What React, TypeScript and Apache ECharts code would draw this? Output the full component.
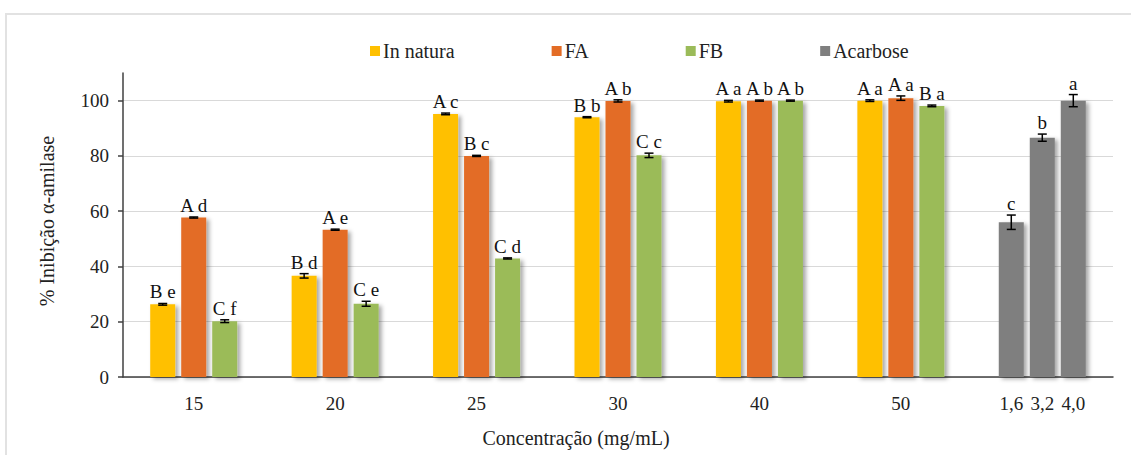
import React, { useEffect, useRef } from 'react';
import * as echarts from 'echarts';

// ---- data ----
const categories = ['15', '20', '25', '30', '40', '50', 'Acarbose'];
const acarboseDoses = ['1,6', '3,2', '4,0'];

const inNatura = [26.3, 36.6, 95.2, 94.0, 99.8, 100.0];
const inNaturaErr = [0.3, 0.8, 0.3, 0.2, 0.3, 0.3];
const inNaturaLetters = ['B e', 'B d', 'A c', 'B b', 'A a', 'A a'];

const fa = [57.7, 53.3, 80.0, 99.9, 100.0, 100.9];
const faErr = [0.2, 0.2, 0.2, 0.4, 0.2, 0.8];
const faLetters = ['A d', 'A e', 'B c', 'A b', 'A b', 'A a'];

const fb = [20.2, 26.5, 42.9, 80.2, 100.0, 98.1];
const fbErr = [0.5, 0.9, 0.2, 0.8, 0.2, 0.3];
const fbLetters = ['C f', 'C e', 'C d', 'C c', 'A b', 'B a'];

const acarbose = [56.0, 86.6, 100.0];
const acarboseErr = [2.6, 1.3, 2.2];
const acarboseLetters = ['c', 'b', 'a'];

const legendNames = ['In natura', 'FA', 'FB', 'Acarbose'];
const colors = ['#FFC000', '#E36C25', '#9BBB59', '#7F7F7F'];

// ---- style constants ----
const FONT = "'Liberation Serif', 'Times New Roman', serif";
const BAR_W = 25;
const BAR_GAP = 6;
const STEP = BAR_W + BAR_GAP;

export default function App() {
  const ref = useRef<HTMLDivElement>(null);

  useEffect(() => {
    if (!ref.current) return;
    const chart = echarts.init(ref.current, null, { renderer: 'svg' });

    const shadow = {
      shadowColor: 'rgba(0,0,0,0.35)',
      shadowBlur: 4,
      shadowOffsetX: 3,
      shadowOffsetY: 2,
    };

    const mainSets = [
      { name: 'In natura', vals: inNatura, errs: inNaturaErr, letters: inNaturaLetters },
      { name: 'FA', vals: fa, errs: faErr, letters: faLetters },
      { name: 'FB', vals: fb, errs: fbErr, letters: fbLetters },
    ];

    const errItems: number[][] = [];
    const errLabels: string[] = [];
    mainSets.forEach((s, si) => {
      s.vals.forEach((v, ci) => {
        errItems.push([ci, v, s.errs[ci], si - 1]);
        errLabels.push(s.letters[ci]);
      });
    });
    acarbose.forEach((v, i) => {
      errItems.push([6, v, acarboseErr[i], i - 1]);
      errLabels.push(acarboseLetters[i]);
    });

    const series: any[] = [];
    mainSets.forEach((s, si) => {
      series.push({
        name: s.name,
        type: 'bar',
        xAxisIndex: 0,
        data: [...s.vals, null],
        barWidth: BAR_W,
        barGap: (BAR_GAP / BAR_W) * 100 + '%',
        itemStyle: { color: colors[si], ...shadow },
        clip: false,
      });
    });
    acarbose.forEach((v, i) => {
      const data: (number | null)[] = categories.map(() => null);
      data[6] = v;
      series.push({
        name: 'Acarbose',
        type: 'bar',
        xAxisIndex: 1,
        data,
        barWidth: BAR_W,
        barGap: (BAR_GAP / BAR_W) * 100 + '%',
        itemStyle: { color: colors[3], ...shadow },
        clip: false,
      });
    });

    series.push({
      name: 'errorbars',
      type: 'custom',
      xAxisIndex: 0,
      yAxisIndex: 0,
      z: 10,
      clip: false,
      encode: { x: 0, y: 1 },
      data: errItems,
      renderItem: (params: any, api: any) => {
        const cat = api.value(0);
        const v = api.value(1);
        const e = api.value(2);
        const slot = api.value(3);
        const hi = api.coord([cat, v + e]);
        const lo = api.coord([cat, v - e]);
        const x = hi[0] + slot * STEP;
        const cap = 4.5;
        const ls = { stroke: '#000', lineWidth: 1.5 };
        return {
          type: 'group',
          children: [
            { type: 'line', shape: { x1: x, y1: hi[1], x2: x, y2: lo[1] }, style: ls },
            { type: 'line', shape: { x1: x - cap, y1: hi[1], x2: x + cap, y2: hi[1] }, style: ls },
            { type: 'line', shape: { x1: x - cap, y1: lo[1], x2: x + cap, y2: lo[1] }, style: ls },
            {
              type: 'text',
              x,
              y: hi[1] - 2,
              style: {
                text: errLabels[params.dataIndex],
                textAlign: 'center',
                textVerticalAlign: 'bottom',
                fontFamily: FONT,
                fontSize: 19,
                fill: '#111',
              },
            },
          ],
        };
      },
    });

    const option: any = {
      animation: false,
      backgroundColor: '#fff',
      color: colors,
      legend: {
        data: legendNames,
        left: 365,
        top: 36,
        icon: 'rect',
        itemWidth: 10,
        itemHeight: 10,
        itemGap: 97,
        textStyle: { fontFamily: FONT, fontSize: 20, color: '#222', padding: [0, 0, 0, -2] },
      },
      grid: { left: 123, right: 18, top: 73, bottom: 78, containLabel: false },
      xAxis: [
        {
          type: 'category',
          data: categories,
          axisTick: { show: false },
          axisLine: { lineStyle: { color: '#404040', width: 1.5 } },
          axisLabel: {
            interval: 0,
            margin: 17,
            fontFamily: FONT,
            fontSize: 19,
            color: '#222',
            formatter: (val: string, idx: number) =>
              idx === 6 ? acarboseDoses.map((d) => `{d|${d}}`).join('') : val,
            rich: {
              d: { width: STEP, align: 'center', fontFamily: FONT, fontSize: 19, color: '#222' },
            },
          },
        },
        {
          type: 'category',
          data: categories,
          show: false,
          position: 'top',
        },
      ],
      yAxis: {
        type: 'value',
        min: 0,
        max: 110,
        interval: 20,
        name: '% Inibição α-amilase',
        nameLocation: 'middle',
        nameGap: 66,
        nameTextStyle: { fontFamily: FONT, fontSize: 20, color: '#222', padding: [0, 0, 0, 8] },
        axisLine: { show: true, lineStyle: { color: '#404040', width: 1.5 } },
        axisTick: { show: true, length: 5, lineStyle: { color: '#404040', width: 1.5 } },
        axisLabel: {
          margin: 14,
          fontFamily: FONT,
          fontSize: 19,
          color: '#222',
          showMaxLabel: false,
        },
        splitLine: { show: true, showMaxLine: false, lineStyle: { color: '#d9d9d9', width: 1 } },
      },
      graphic: [
        {
          type: 'rect',
          z: -10,
          shape: { x: 6, y: 14, width: 1300, height: 600 },
          style: { fill: 'none', stroke: '#e2e2e2', lineWidth: 2 },
          silent: true,
        },
        {
          type: 'text',
          x: 576,
          y: 438,
          style: {
            text: 'Concentração (mg/mL)',
            textAlign: 'center',
            textVerticalAlign: 'middle',
            fontFamily: FONT,
            fontSize: 20,
            fill: '#222',
          },
        },
      ],
      series,
    };

    chart.setOption(option);
    return () => chart.dispose();
  }, []);

  return (
    <div
      ref={ref}
      style={{ position: 'fixed', left: 0, top: 0, width: 1131, height: 455 }}
    />
  );
}
